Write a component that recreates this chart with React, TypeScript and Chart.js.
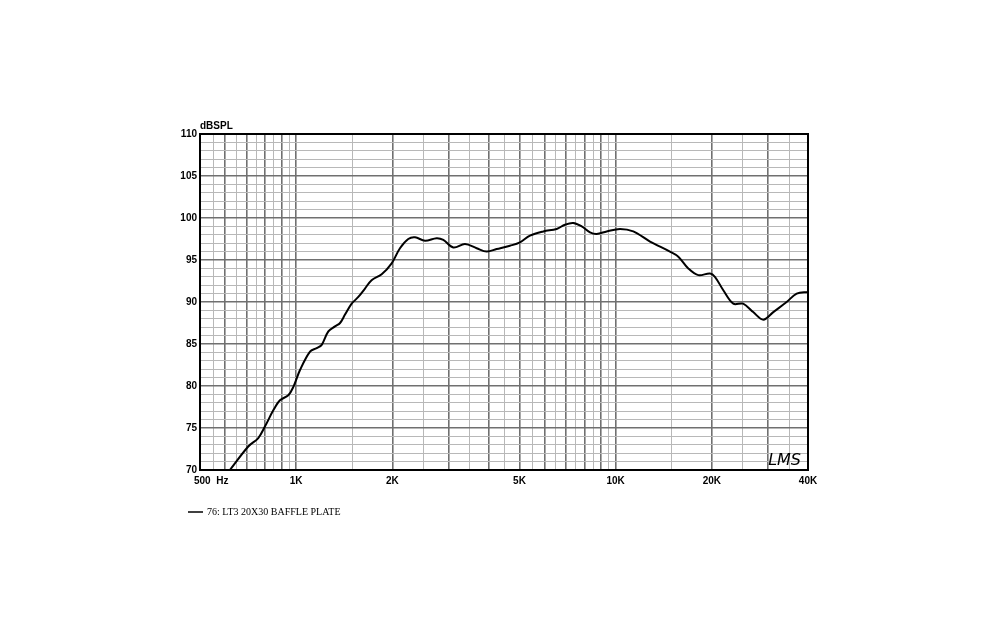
import React, { useEffect, useRef } from 'react';
import { Chart, registerables } from 'chart.js';

Chart.register(...registerables);

// Frequency response (Hz) and level (dB SPL)
const FREQS = [620, 708, 761, 799, 848, 890, 945, 980, 1028, 1105, 1159, 1202, 1261, 1323, 1372, 1422, 1492, 1565, 1642, 1722, 1852, 1990, 2113, 2243, 2355, 2531, 2752, 2888, 3104, 3376, 3672, 3947, 4241, 4668, 5018, 5393, 5936, 6536, 6940, 7366, 7830, 8311, 8720, 9375, 10320, 11356, 12810, 14790, 15707, 16883, 18150, 19740, 20450, 21725, 23350, 25060, 26950, 28990, 31150, 34290, 36870, 40000];
const SPL = [70, 72.8, 73.8, 75.2, 77.1, 78.3, 78.9, 79.9, 81.9, 84.1, 84.5, 84.9, 86.5, 87.1, 87.5, 88.5, 89.8, 90.6, 91.6, 92.6, 93.3, 94.6, 96.4, 97.5, 97.7, 97.3, 97.6, 97.4, 96.5, 96.9, 96.4, 96.0, 96.3, 96.7, 97.1, 97.9, 98.4, 98.7, 99.2, 99.4, 99.0, 98.3, 98.1, 98.4, 98.7, 98.4, 97.2, 96.0, 95.4, 94.0, 93.2, 93.4, 93.0, 91.4, 89.8, 89.8, 88.8, 87.9, 88.8, 90.0, 91.0, 91.2];

const SERIES_LABEL = '76: LT3 20X30 BAFFLE PLATE';
const Y_TITLE = 'dBSPL';
const X_UNIT_LABEL = '500  Hz';
const SIGNATURE = 'LMS';

const X_MIN = 500;
const X_MAX = 40000;
const Y_MIN = 70;
const Y_MAX = 110;

const X_TICK_LABELS: Record<number, string> = { 1000: '1K', 2000: '2K', 5000: '5K', 10000: '10K', 20000: '20K', 40000: '40K' };
const X_MAJOR_LINES = [600, 700, 800, 900, 1000, 2000, 3000, 4000, 5000, 6000, 7000, 8000, 9000, 10000, 20000, 30000];
const X_MINOR_LINES = [550, 650, 750, 850, 950, 1500, 2500, 3500, 4500, 5500, 6500, 7500, 8500, 9500, 15000, 25000, 35000];
const Y_LINES = [70, 71, 72, 73, 74, 75, 76, 77, 78, 79, 80, 81, 82, 83, 84, 85, 86, 87, 88, 89, 90, 91, 92, 93, 94, 95, 96, 97, 98, 99, 100, 101, 102, 103, 104, 105, 106, 107, 108, 109, 110];
const Y_TICK_LABELS = [70, 75, 80, 85, 90, 95, 100, 105, 110];

const DARK = '#707070';
const LIGHT = '#b8b8b8';

const overlayPlugin = {
  id: 'overlay',
  afterDraw(chart: any) {
    const { ctx, chartArea } = chart;
    const { left, top, right, bottom } = chartArea;
    ctx.save();
    ctx.strokeStyle = '#000';
    ctx.lineWidth = 2;
    ctx.strokeRect(left, top, right - left, bottom - top);

    ctx.fillStyle = '#000';
    ctx.font = 'bold 10px "Liberation Sans", Arial, sans-serif';
    ctx.textAlign = 'left';
    ctx.textBaseline = 'alphabetic';
    ctx.fillText(Y_TITLE, left, top - 5);
    ctx.fillText(X_UNIT_LABEL, left - 6, bottom + 14);

    ctx.font = 'italic 16px "DejaVu Sans", sans-serif';
    ctx.textAlign = 'right';
    ctx.fillText(SIGNATURE, right - 7, bottom - 5);

    // legend
    const ly = 512;
    ctx.strokeStyle = '#000';
    ctx.lineWidth = 1.5;
    ctx.beginPath();
    ctx.moveTo(188, ly);
    ctx.lineTo(203, ly);
    ctx.stroke();
    ctx.font = '10px "Liberation Serif", serif';
    ctx.textAlign = 'left';
    ctx.textBaseline = 'middle';
    ctx.fillText(chart.data.datasets[0].label, 207, ly + 0.5);
    ctx.restore();
  },
};

export default function App() {
  const ref = useRef<HTMLCanvasElement | null>(null);

  useEffect(() => {
    if (!ref.current) return;
    const data = FREQS.map((f, i) => ({ x: f, y: SPL[i] }));
    const chart = new Chart(ref.current, {
      type: 'line',
      data: {
        datasets: [
          {
            label: SERIES_LABEL,
            data,
            borderColor: '#000',
            borderWidth: 2,
            pointRadius: 0,
            fill: false,
            tension: 0.35,
          },
        ],
      },
      options: {
        animation: false,
        responsive: true,
        maintainAspectRatio: false,
        layout: { padding: { left: 0, top: 134, right: 192, bottom: 140 } },
        plugins: { legend: { display: false }, tooltip: { enabled: false } },
        scales: {
          x: {
            type: 'logarithmic',
            min: X_MIN,
            max: X_MAX,
            afterBuildTicks: (scale: any) => {
              const vals = [X_MIN, ...X_MINOR_LINES, ...X_MAJOR_LINES, X_MAX].sort((a, b) => a - b);
              scale.ticks = vals.map((v) => ({ value: v }));
            },
            afterFit: (scale: any) => {
              scale.height = 30;
            },
            ticks: {
              autoSkip: false,
              maxRotation: 0,
              minRotation: 0,
              padding: 5,
              color: '#000',
              font: { family: '"Liberation Sans", Arial, sans-serif', size: 10, weight: 'bold' },
              callback: (v: any) => X_TICK_LABELS[Number(v)] ?? '',
            },
            grid: {
              drawTicks: false,
              color: (c: any) => (X_MAJOR_LINES.includes(c.tick?.value) ? DARK : LIGHT),
              lineWidth: (c: any) => (X_MAJOR_LINES.includes(c.tick?.value) ? 1.6 : 1),
            },
            border: { display: false },
          },
          y: {
            type: 'linear',
            min: Y_MIN,
            max: Y_MAX,
            afterBuildTicks: (scale: any) => {
              scale.ticks = Y_LINES.map((v) => ({ value: v }));
            },
            afterFit: (scale: any) => {
              scale.width = 200;
            },
            ticks: {
              autoSkip: false,
              padding: 3,
              color: '#000',
              font: { family: '"Liberation Sans", Arial, sans-serif', size: 10, weight: 'bold' },
              callback: (v: any) => (Y_TICK_LABELS.includes(Number(v)) ? String(v) : ''),
            },
            grid: {
              drawTicks: false,
              color: (c: any) => (Y_TICK_LABELS.includes(c.tick?.value) ? DARK : LIGHT),
              lineWidth: (c: any) => (Y_TICK_LABELS.includes(c.tick?.value) ? 1.6 : 1),
            },
            border: { display: false },
          },
        },
      },
      plugins: [overlayPlugin],
    });
    return () => chart.destroy();
  }, []);

  return (
    <div style={{ position: 'absolute', left: 0, top: 0, width: 1000, height: 640, background: '#fff' }}>
      <canvas ref={ref} />
    </div>
  );
}
